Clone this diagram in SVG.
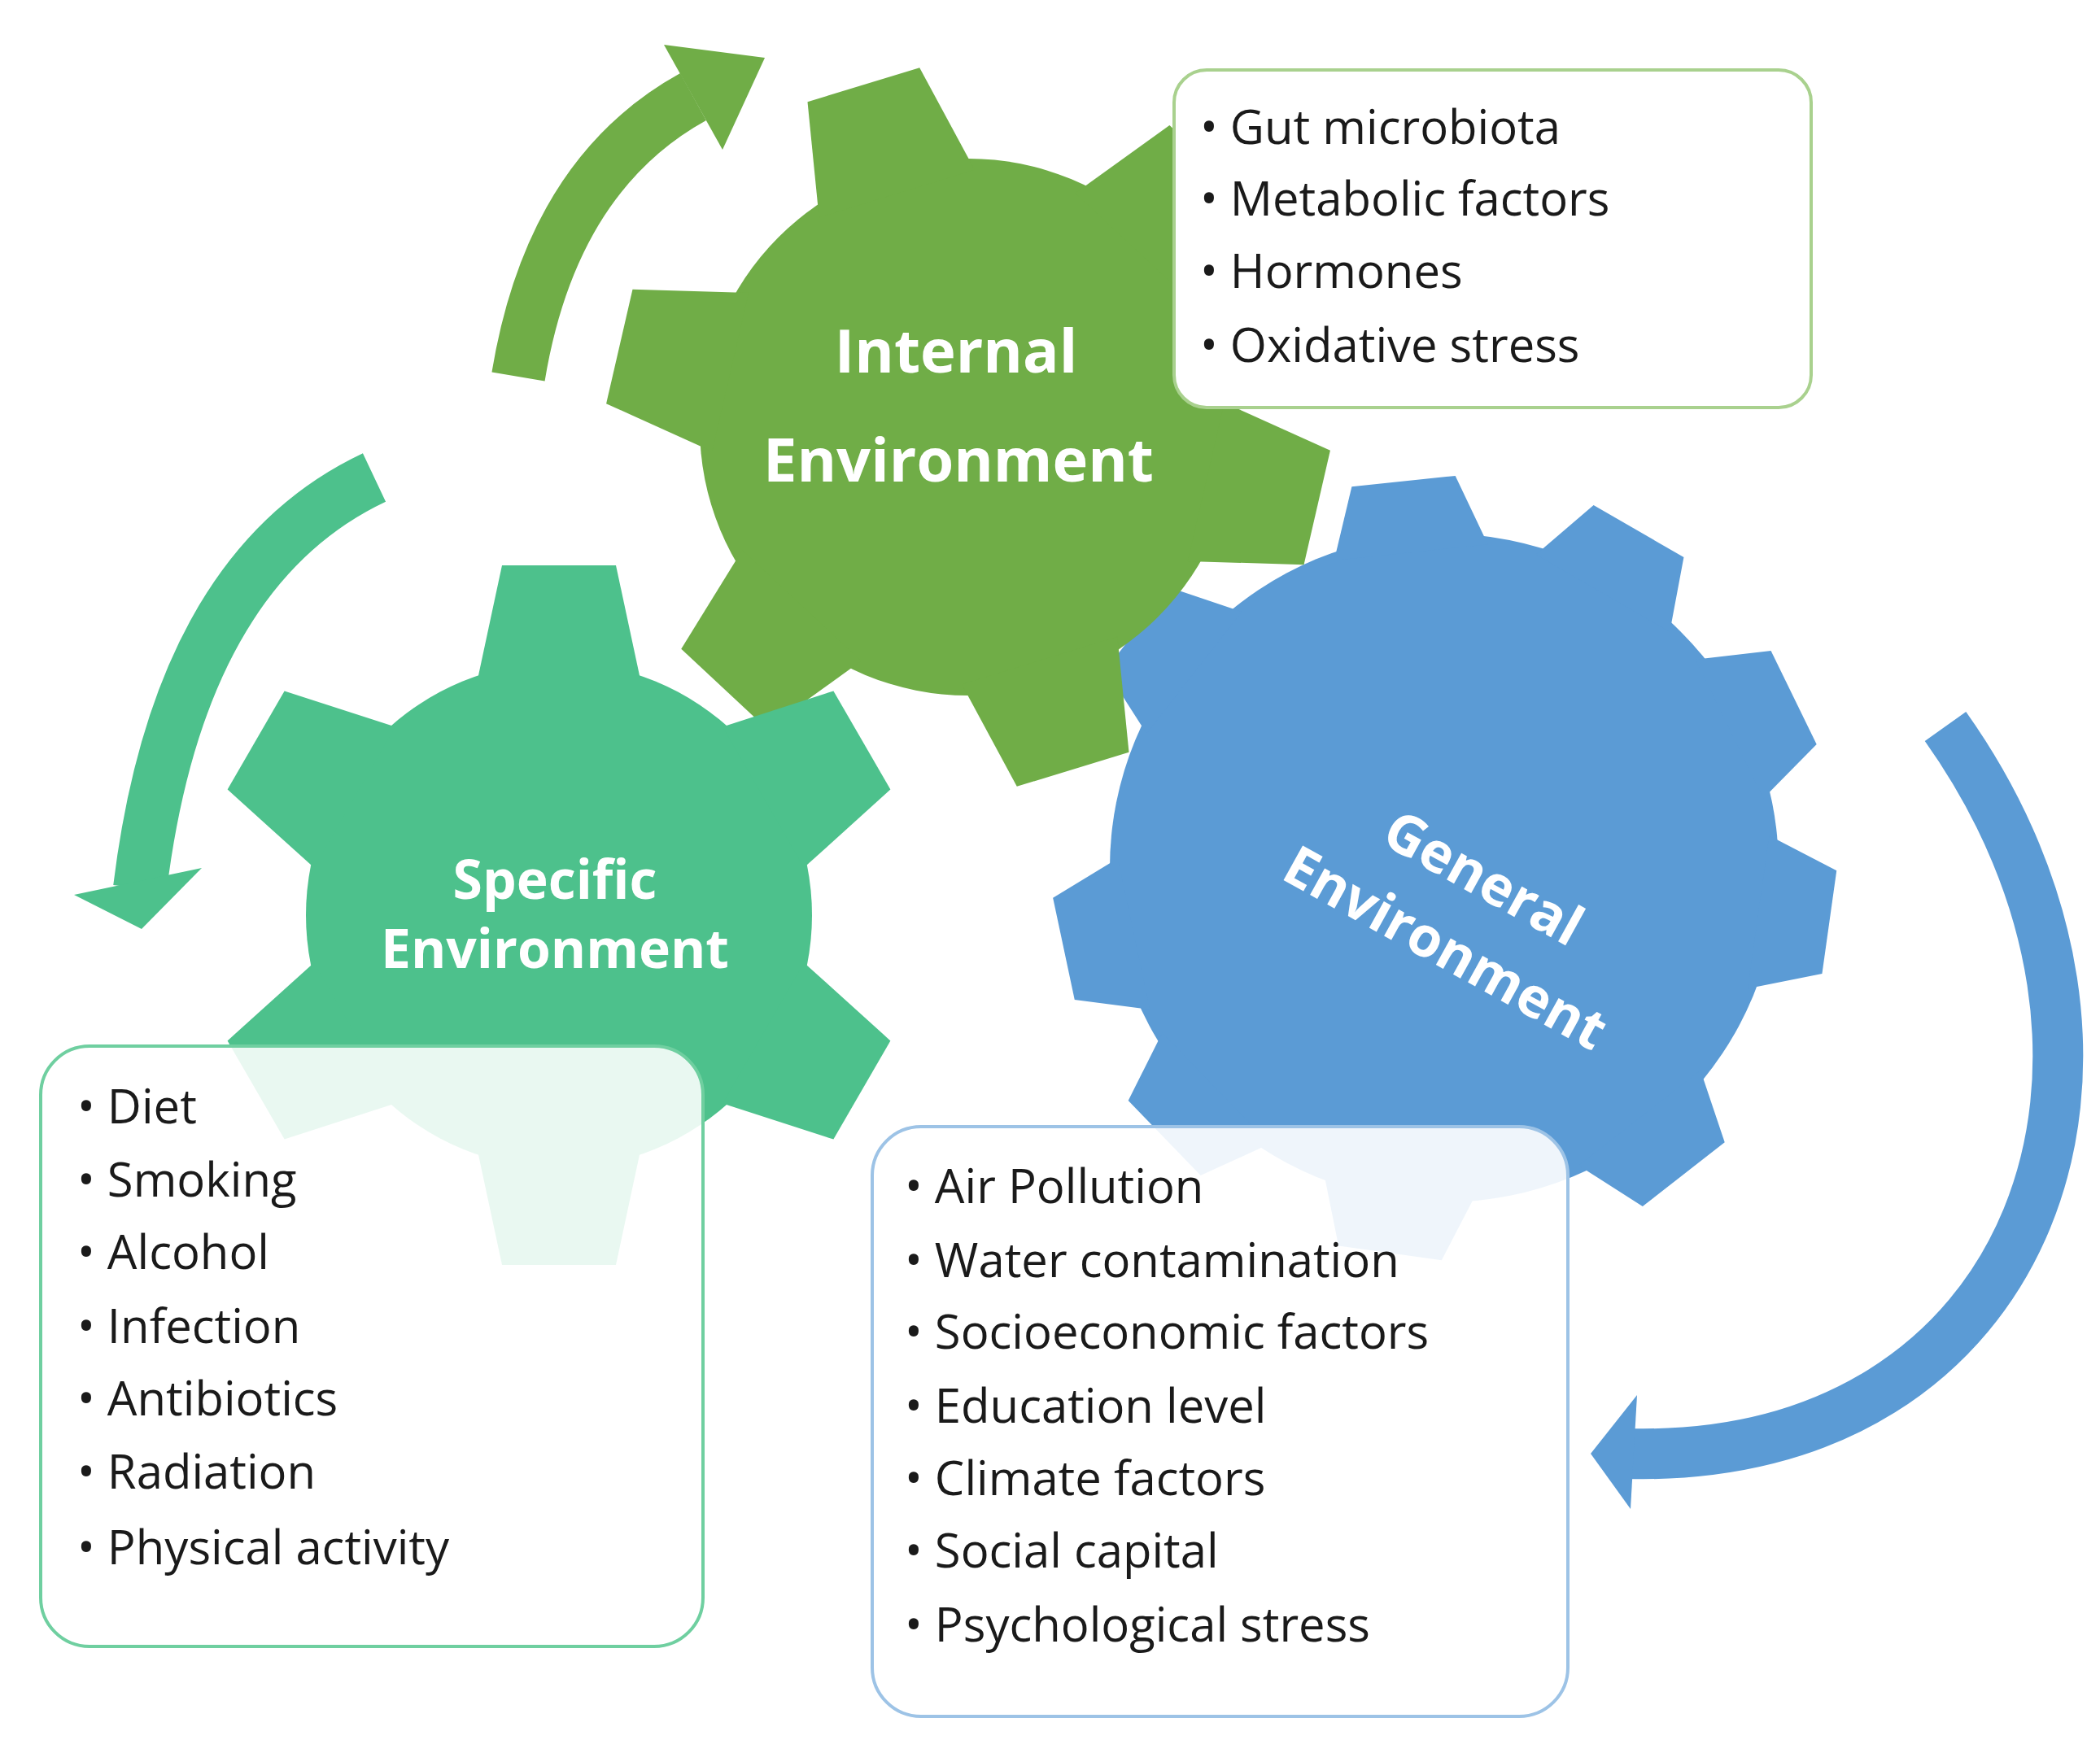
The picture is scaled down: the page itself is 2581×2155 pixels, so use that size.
<svg xmlns="http://www.w3.org/2000/svg" width="2581" height="2155" viewBox="0 0 2581 2155">
<style>
.lbl{font-family:"Open Sans","Noto Sans",sans-serif;font-weight:bold;fill:#fff;text-anchor:middle}
.item{font-family:"Open Sans","Noto Sans",sans-serif;font-size:58px;fill:#1a1a1a}
.box{fill:#fff;stroke-width:4}
</style>
<defs>
<polygon id="tI" points="-100,-300 100,-300 72,-440 -72,-440"/>
<polygon id="tS" points="-100,-290 100,-290 70,-430 -70,-430"/>
<polygon id="tG" points="-95,-390 95,-390 64,-478 -64,-478"/>
</defs>
<g id="connectors">
<path d="M637,463 Q678,215 852,119" fill="none" stroke="#70AD47" stroke-width="66"/>
<polygon points="816,55 940,71 888,184" fill="#70AD47"/>
<path d="M460,587 Q220,700 172,1092" fill="none" stroke="#4DC18C" stroke-width="66"/>
<polygon points="91,1100 248,1067 174,1142" fill="#4DC18C"/>
<path d="M2391,893 C2680,1300 2500,1800 2000,1787" fill="none" stroke="#5B9BD5" stroke-width="62"/>
<polygon points="2012,1715 2004,1855 1955,1787" fill="#5B9BD5"/>
</g>
<g id="gear-general" fill="#5B9BD5">
<circle cx="1775" cy="1067" r="411"/>
<g transform="translate(1775,1067)">
<use href="#tG" transform="rotate(-52)"/>
<use href="#tG" transform="rotate(-6)"/>
<use href="#tG" transform="rotate(30)"/>
<use href="#tG" transform="rotate(64)"/>
<use href="#tG" transform="rotate(98)"/>
<use href="#tG" transform="rotate(142)"/>
<use href="#tG" transform="rotate(188)"/>
<use href="#tG" transform="rotate(226)"/>
<use href="#tG" transform="rotate(258)"/>
</g>
<text class="lbl" font-size="68" transform="translate(1812,1100) rotate(29)">General</text>
<text class="lbl" font-size="68" transform="translate(1765,1186) rotate(29)">Environment</text>
</g>
<g id="gear-internal" fill="#70AD47">
<circle cx="1190" cy="525" r="330"/>
<g transform="translate(1190,525)">
<use href="#tI" transform="rotate(-17)"/>
<use href="#tI" transform="rotate(43)"/>
<use href="#tI" transform="rotate(103)"/>
<use href="#tI" transform="rotate(163)"/>
<use href="#tI" transform="rotate(223)"/>
<use href="#tI" transform="rotate(283)"/>
</g>
<text class="lbl" font-size="74" x="1175" y="458">Internal</text>
<text class="lbl" font-size="74" x="1178" y="592">Environment</text>
</g>
<g id="gear-specific" fill="#4DC18C">
<circle cx="687" cy="1125" r="311"/>
<g transform="translate(687,1125)">
<use href="#tS" transform="rotate(0)"/>
<use href="#tS" transform="rotate(60)"/>
<use href="#tS" transform="rotate(120)"/>
<use href="#tS" transform="rotate(180)"/>
<use href="#tS" transform="rotate(240)"/>
<use href="#tS" transform="rotate(300)"/>
</g>
<text class="lbl" font-size="66" x="682" y="1105">Specific</text>
<text class="lbl" font-size="66" x="682" y="1190">Environment</text>
</g>
<g id="box-internal">
<rect class="box" x="1443" y="86" width="783" height="415" rx="40" stroke="#A9D18E"/>
<g class="item">
<text x="1475" y="177">•  Gut microbiota</text>
<text x="1475" y="265">•  Metabolic factors</text>
<text x="1475" y="354">•  Hormones</text>
<text x="1475" y="445">•  Oxidative stress</text>
</g>
</g>
<g id="box-specific">
<rect class="box" x="50" y="1286" width="814" height="738" rx="60" stroke="#6FCFA0" fill-opacity="0.88"/>
<g class="item">
<text x="95" y="1381">•  Diet</text>
<text x="95" y="1471">•  Smoking</text>
<text x="95" y="1560">•  Alcohol</text>
<text x="95" y="1651">•  Infection</text>
<text x="95" y="1740">•  Antibiotics</text>
<text x="95" y="1830">•  Radiation</text>
<text x="95" y="1923">•  Physical activity</text>
</g>
</g>
<g id="box-general">
<rect class="box" x="1072" y="1385" width="855" height="725" rx="60" stroke="#9DC3E6" fill-opacity="0.9"/>
<g class="item">
<text x="1112" y="1479">•  Air Pollution</text>
<text x="1112" y="1570">•  Water contamination</text>
<text x="1112" y="1658">•  Socioeconomic factors</text>
<text x="1112" y="1749">•  Education level</text>
<text x="1112" y="1838">•  Climate factors</text>
<text x="1112" y="1927">•  Social capital</text>
<text x="1112" y="2018">•  Psychological stress</text>
</g>
</g>
</svg>
